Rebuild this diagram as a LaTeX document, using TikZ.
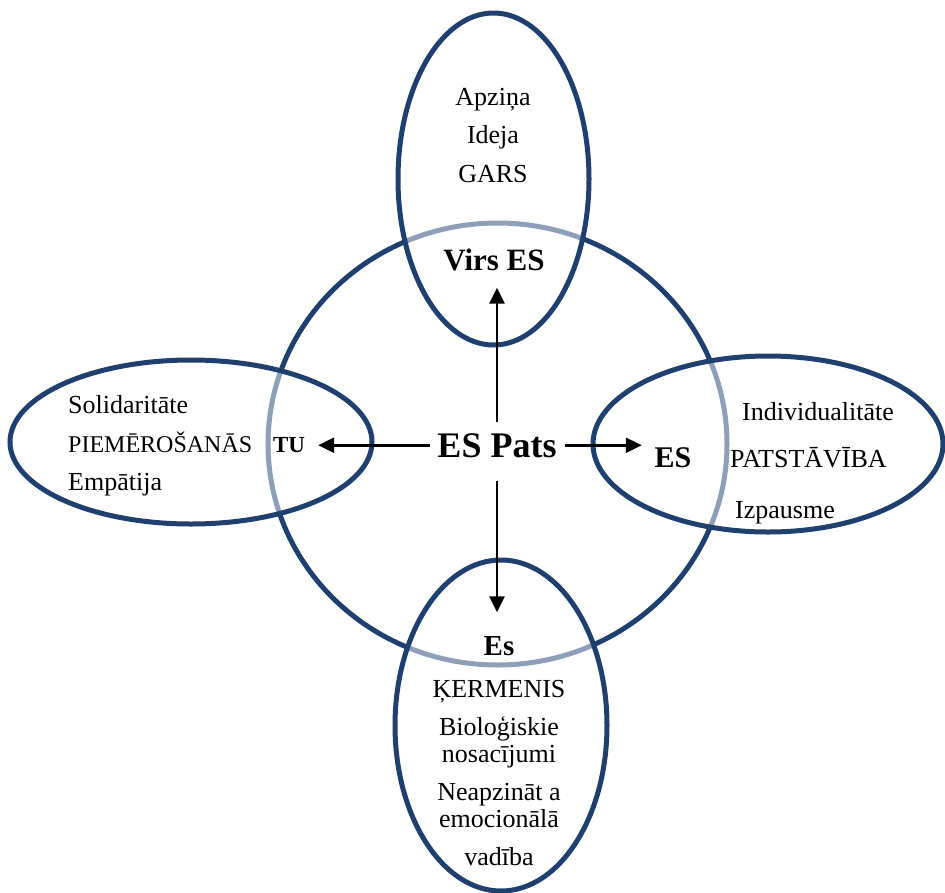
\documentclass[tikz,border=0pt]{standalone}
\usepackage{fontspec}
\setmainfont{Liberation Serif}
\usetikzlibrary{arrows.meta}
\definecolor{ringblue}{HTML}{1F406F}
\tikzset{
  ring/.style={draw=ringblue, line width=5pt},
  petal/.style={ring, fill=white, fill opacity=0.5, draw opacity=1},
  txt/.style={inner sep=0pt, anchor=base, font=\fontsize{26}{30}\selectfont},
  txtl/.style={txt, anchor=base west},
  hub/.style={inner sep=0pt, anchor=base, font=\fontsize{36}{40}\selectfont\bfseries},
  pole/.style={inner sep=0pt, anchor=base, font=\fontsize{#1}{#1}\selectfont\bfseries},
  arr/.style={line width=2.5pt, -{Triangle[length=16pt,width=15pt]}}
}
\begin{document}
\begin{tikzpicture}[x=1pt,y=-1pt]
\useasboundingbox (0,0) rectangle (945,892);

% central circle
\draw[ring] (497.5,444) ellipse [x radius=229.5pt, y radius=221pt];

% four outer ellipses, lightly veiling the circle where they overlap it
\draw[petal] (493.5,179) ellipse [x radius=95.5pt, y radius=166pt];
\draw[petal] (501,725.5) ellipse [x radius=106pt, y radius=165.5pt];
\draw[petal] (191,442) ellipse [x radius=181pt, y radius=82pt];
\draw[petal] (768,444) ellipse [x radius=175pt, y radius=88pt];

% centre and the four poles
\node[hub] (pats) at (497,457) {ES Pats};
\node[pole=31] (virs) at (494,270) {Virs ES};
\node[pole=23] (tu) at (289,452) {TU};
\node[pole=30] (es) at (673,467) {ES};
\node[pole=29] (esb) at (499,655) {Es};

% top ellipse
\node[txt] (t1) at (493,105) {Apziņa};
\node[txt] (t2) at (493,143) {Ideja};
\node[txt] (t3) at (493,182) {GARS};

% left ellipse
\node[txtl] (l1) at (68,413) {Solidaritāte};
\node[txtl, font=\fontsize{24}{28}\selectfont] (l2) at (68,452) {PIEMĒROŠANĀS};
\node[txtl] (l3) at (68,490) {Empātija};

% right ellipse
\node[txtl] (r1) at (742,420) {Individualitāte};
\node[txtl] (r2) at (730,467) {PATSTĀVĪBA};
\node[txtl] (r3) at (735,518) {Izpausme};

% bottom ellipse
\node[txt] (b1) at (499,697) {ĶERMENIS};
\node[txt] (b2) at (499,735) {Bioloģiskie};
\node[txt] (b3) at (499,762) {nosacījumi};
\node[txt] (b4) at (499,800) {Neapzināt a};
\node[txt] (b5) at (499,827) {emocionālā};
\node[txt] (b6) at (499,865) {vadība};

% arrows from the centre
\draw[arr, shorten <=10.7pt, shorten >=17pt] (pats.north) -- (pats.north |- virs.south);
\draw[arr, shorten <=23.4pt, shorten >=23.5pt] (pats.south) -- (pats.south |- esb.north);
\draw[arr, shorten <=7.5pt, shorten >=13pt] (pats.west) -- (pats.west -| tu.east);
\draw[arr, shorten <=8.5pt, shorten >=12.7pt] (pats.east) -- (pats.east -| es.west);
\end{tikzpicture}
\end{document}
